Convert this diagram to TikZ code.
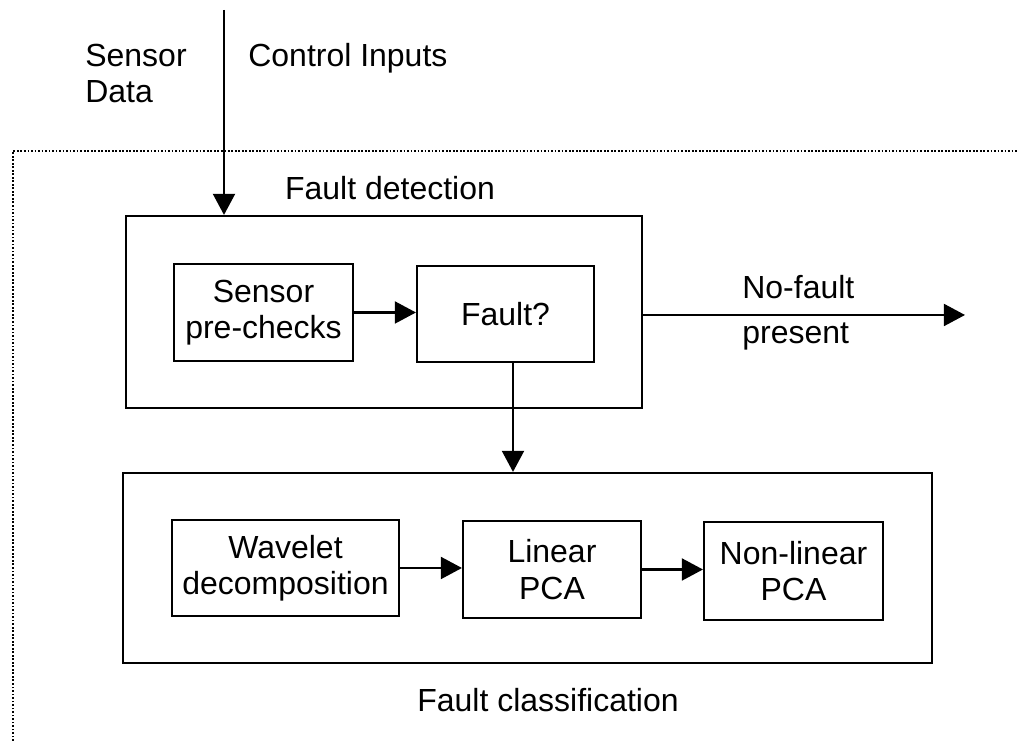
\documentclass[tikz,border=0pt]{standalone}
\usepackage{fontspec}
\setmainfont{Liberation Sans}
\usetikzlibrary{arrows.meta}

\tikzset{
  block/.style={draw, line width=1.2pt, align=center, inner sep=0pt},
  arr/.style={line width=1.2pt, -{Triangle[length=12pt,width=12.5pt]}},
  lbl/.style={anchor=base, inner sep=0pt},
}

\begin{document}
\begin{tikzpicture}[font=\fontsize{18.2}{20.6}\selectfont]

        \useasboundingbox (0,0) rectangle (20.34,14.82);

        % dotted boundary
        \draw[densely dotted, line width=1pt] (0.26,0) -- (0.26,11.80) -- (20.34,11.80);

        % inputs
        \coordinate (inTop) at (4.48,14.62);
        \node[lbl, anchor=base west, align=left] (sensordata) at (1.70,12.76) {Sensor\\Data};
        \node[lbl, anchor=base west] (ctrlinputs) at (4.96,13.48) {Control Inputs};

        % fault detection
        \node[block, minimum width=10.32cm, minimum height=3.84cm] (detect) at (7.68,8.58) {};
        \node[lbl] (detectlbl) at (7.80,10.82) {Fault detection};
        \node[block, minimum width=3.58cm, minimum height=1.94cm] (prechk) at (5.27,8.57) {Sensor\\pre-checks};
        \node[block, minimum width=3.54cm, minimum height=1.92cm] (fault) at (10.11,8.54) {Fault?};

        \coordinate (nofaultEnd) at (19.30,8.52);
        \node[lbl, anchor=base west] (nofaultlbl) at (14.84,8.84) {No-fault};
        \node[lbl, anchor=base west] (presentlbl) at (14.84,7.94) {present};

        % fault classification
        \node[block, minimum width=16.18cm, minimum height=3.80cm] (classify) at (10.55,3.46) {};
        \node[lbl] (classifylbl) at (10.96,0.58) {Fault classification};
        \node[block, minimum width=4.54cm, minimum height=1.92cm] (wavelet) at (5.71,3.46) {Wavelet\\decomposition};
        \node[block, minimum width=3.56cm, minimum height=1.94cm] (linpca) at (11.04,3.43) {Linear\\PCA};
        \node[block, minimum width=3.58cm, minimum height=1.96cm] (nlpca) at (15.87,3.40) {Non-linear\\PCA};

        % connectors
        \draw[arr] (inTop) -- (inTop |- detect.north);
        \draw[arr] (prechk.east) -- (prechk.east -| fault.west);
        \draw[arr] (detect.east |- nofaultEnd) -- (nofaultEnd);
        \draw[arr] ([xshift=0.15cm]fault.south) -- ([xshift=0.15cm]fault.south |- classify.north);
        \draw[arr] (wavelet.east) -- (wavelet.east -| linpca.west);
        \draw[arr] (linpca.east) -- (linpca.east -| nlpca.west);

\end{tikzpicture}
\end{document}
